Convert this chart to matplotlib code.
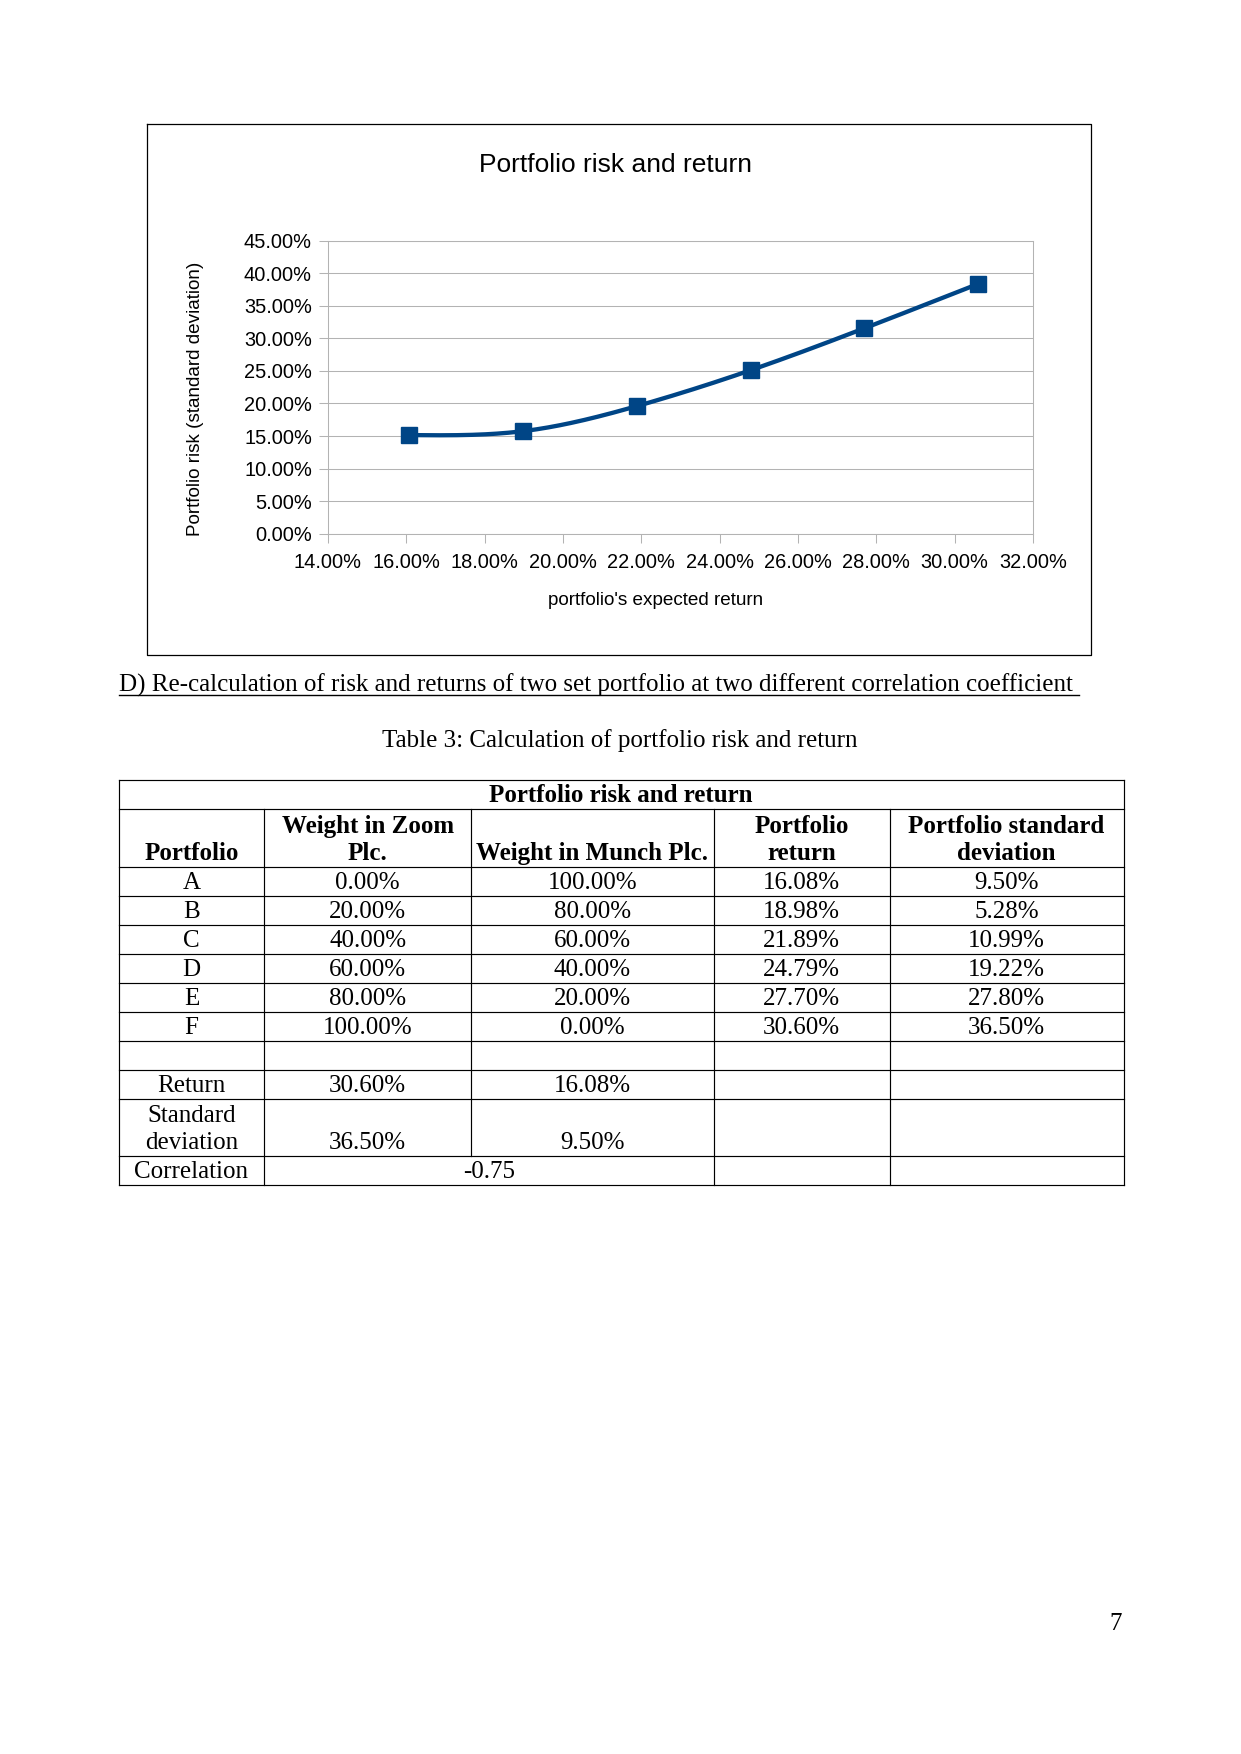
import numpy as np
import matplotlib
matplotlib.use("Agg")
import matplotlib.pyplot as plt
from matplotlib.ticker import FuncFormatter

# ---------------- data ----------------
chart_return = [16.08, 18.98, 21.89, 24.79, 27.70, 30.60]   # x, %
chart_risk = [15.15, 15.75, 19.60, 25.10, 31.55, 38.35]     # y, %
x_ticks = [14, 16, 18, 20, 22, 24, 26, 28, 30, 32]
y_ticks = [0, 5, 10, 15, 20, 25, 30, 35, 40, 45]

portfolios = ["A", "B", "C", "D", "E", "F"]
weight_zoom = [0.00, 20.00, 40.00, 60.00, 80.00, 100.00]
weight_munch = [100.00, 80.00, 60.00, 40.00, 20.00, 0.00]
port_return = [16.08, 18.98, 21.89, 24.79, 27.70, 30.60]
port_sd = [9.50, 5.28, 10.99, 19.22, 27.80, 36.50]
asset_return = [30.60, 16.08]
asset_sd = [36.50, 9.50]
correlation = -0.75

W, H = 1241, 1754
fig = plt.figure(figsize=(W / 100, H / 100), dpi=100)
fig.patch.set_facecolor("white")


def fx(x):
    return x / W


def fy(y):
    return 1 - y / H


# page overlay axes in pixel coordinates
page = fig.add_axes([0, 0, 1, 1], zorder=0)
page.set_xlim(0, W)
page.set_ylim(H, 0)
page.axis("off")

SANS = "Liberation Sans"
SERIF = "Liberation Serif"

# ---------------- chart ----------------
# chart frame
page.plot([147, 1091, 1091, 147, 147], [124, 124, 655, 655, 124], color="black", lw=0.9)

ax_l, ax_r, ax_t, ax_b = 327.9, 1032.9, 240.6, 533.8
ax = fig.add_axes([fx(ax_l), fy(ax_b), fx(ax_r) - fx(ax_l), (ax_b - ax_t) / H], zorder=2)
ax.set_facecolor("none")


def natural_spline(x, y, n=300):
    x = np.asarray(x, float)
    y = np.asarray(y, float)
    k = len(x)
    h = np.diff(x)
    A = np.zeros((k, k))
    b = np.zeros(k)
    A[0, 0] = 1
    A[-1, -1] = 1
    for i in range(1, k - 1):
        A[i, i - 1] = h[i - 1]
        A[i, i] = 2 * (h[i - 1] + h[i])
        A[i, i + 1] = h[i]
        b[i] = 6 * ((y[i + 1] - y[i]) / h[i] - (y[i] - y[i - 1]) / h[i - 1])
    M = np.linalg.solve(A, b)
    xs = np.linspace(x[0], x[-1], n)
    ys = np.empty_like(xs)
    for j, xv in enumerate(xs):
        i = min(np.searchsorted(x, xv, side="right") - 1, k - 2)
        t1 = x[i + 1] - xv
        t0 = xv - x[i]
        ys[j] = (M[i] * t1 ** 3 / (6 * h[i]) + M[i + 1] * t0 ** 3 / (6 * h[i])
                 + (y[i] / h[i] - M[i] * h[i] / 6) * t1
                 + (y[i + 1] / h[i] - M[i + 1] * h[i] / 6) * t0)
    return xs, ys


sx, sy = natural_spline(chart_return, chart_risk)
line_col = "#004586"
ax.plot(sx, sy, color=line_col, lw=3.1, solid_capstyle="round", zorder=3)
ax.plot(chart_return, chart_risk, linestyle="none", marker="s", markersize=11,
        color=line_col, zorder=4)

ax.set_xlim(14, 32)
ax.set_ylim(0, 45)
ax.set_xticks(x_ticks)
ax.set_yticks(y_ticks)
pct = FuncFormatter(lambda v, p: f"{v:.2f}%")
ax.xaxis.set_major_formatter(pct)
ax.yaxis.set_major_formatter(pct)
grid_col = "#b3b3b3"
ax.grid(axis="y", color=grid_col, lw=0.75, zorder=1)
ax.grid(axis="x", visible=False)
for s in ax.spines.values():
    s.set_color(grid_col)
    s.set_linewidth(0.75)
ax.tick_params(axis="both", direction="out", length=6.5, width=0.75, color=grid_col,
               labelcolor="black", labelsize=14.4)
ax.tick_params(axis="x", pad=7)
ax.tick_params(axis="y", pad=5)
for lab in ax.get_xticklabels() + ax.get_yticklabels():
    lab.set_fontfamily(SANS)

page.text(615.5, 165.5, "Portfolio risk and return", fontsize=19, family=SANS,
          ha="center", va="center")
page.text(655.7, 600.5, "portfolio's expected return", fontsize=13.6, family=SANS,
          ha="center", va="center")
page.text(195, 398.4, "Portfolio risk (standard deviation)", fontsize=13.6, family=SANS,
          ha="center", va="center", rotation=90)

# ---------------- heading & caption ----------------
page.text(118.6, 691.7, "D) Re-calculation of risk and returns of two set portfolio at two different correlation coefficient ",
          fontsize=18, family=SERIF, ha="left", va="baseline")
page.plot([118.6, 1079], [694.8, 694.8], color="black", lw=1.0)
page.text(620, 746.7, "Table 3: Calculation of portfolio risk and return",
          fontsize=18, family=SERIF, ha="center", va="baseline")

# ---------------- table ----------------
cols = [118.6, 264.1, 471.1, 713.9, 889.6, 1123.5]
rows = [780, 809.3, 867.3, 896, 925, 954, 983.3, 1012.3, 1041, 1070, 1099, 1156, 1185]
centers = [(cols[i] + cols[i + 1]) / 2 for i in range(5)]
tlw = 0.85
TF = 18
LS = 27.5
BOFF = 7.0

# horizontal lines
for r in rows:
    page.plot([cols[0], cols[-1]], [r, r], color="black", lw=tlw)
# vertical lines
page.plot([cols[0], cols[0]], [rows[0], rows[-1]], color="black", lw=tlw)
page.plot([cols[-1], cols[-1]], [rows[0], rows[-1]], color="black", lw=tlw)
for ci in [1, 3, 4]:
    page.plot([cols[ci], cols[ci]], [rows[1], rows[-1]], color="black", lw=tlw)
page.plot([cols[2], cols[2]], [rows[1], rows[-2]], color="black", lw=tlw)


def cell(ci, ri, lines, bold=False, x=None):
    base = rows[ri + 1] - BOFF
    n = len(lines)
    for k, t in enumerate(lines):
        page.text(centers[ci] if x is None else x, base - (n - 1 - k) * LS, t,
                  fontsize=TF, family=SERIF, ha="center", va="baseline",
                  fontweight="bold" if bold else "normal")


cell(0, 0, ["Portfolio risk and return"], bold=True, x=(cols[0] + cols[-1]) / 2)
cell(0, 1, ["Portfolio"], bold=True)
cell(1, 1, ["Weight in Zoom", "Plc."], bold=True)
cell(2, 1, ["Weight in Munch Plc."], bold=True)
cell(3, 1, ["Portfolio", "return"], bold=True)
cell(4, 1, ["Portfolio standard", "deviation"], bold=True)

for i, p in enumerate(portfolios):
    ri = 2 + i
    cell(0, ri, [p])
    cell(1, ri, [f"{weight_zoom[i]:.2f}%"])
    cell(2, ri, [f"{weight_munch[i]:.2f}%"])
    cell(3, ri, [f"{port_return[i]:.2f}%"])
    cell(4, ri, [f"{port_sd[i]:.2f}%"])

cell(0, 9, ["Return"])
cell(1, 9, [f"{asset_return[0]:.2f}%"])
cell(2, 9, [f"{asset_return[1]:.2f}%"])
cell(0, 10, ["Standard", "deviation"])
cell(1, 10, [f"{asset_sd[0]:.2f}%"])
cell(2, 10, [f"{asset_sd[1]:.2f}%"])
cell(0, 11, ["Correlation"])
cell(1, 11, [f"{correlation:.2f}"], x=(cols[1] + cols[3]) / 2)

# page number
page.text(1115.6, 1630, "7", fontsize=18, family=SERIF, ha="center", va="baseline")

fig.savefig("out.png", dpi=100, facecolor="white")
